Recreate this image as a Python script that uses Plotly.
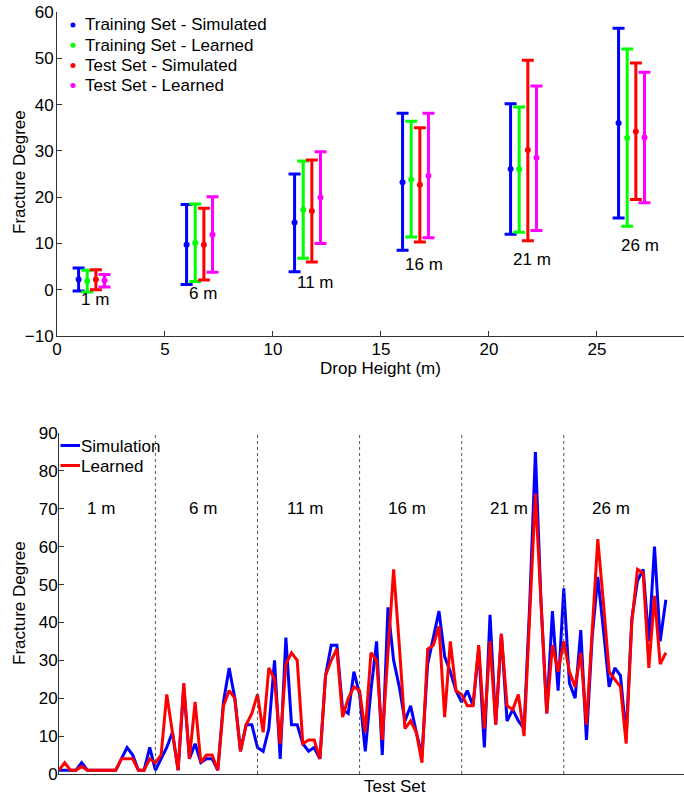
import plotly.graph_objects as go

# ---------------- Top chart data ----------------
heights = [1, 6, 11, 16, 21, 26]
height_labels = ["1 m", "6 m", "11 m", "16 m", "21 m", "26 m"]

train_sim_mean = [2.2, 9.7, 14.5, 23.2, 26.1, 36.0]
train_sim_hi = [4.7, 18.4, 25.0, 38.1, 40.2, 56.5]
train_sim_lo = [-0.3, 1.1, 3.9, 8.5, 12.0, 15.5]

train_learn_mean = [1.9, 10.1, 17.3, 23.8, 26.0, 32.8]
train_learn_hi = [4.2, 18.5, 27.8, 36.4, 39.5, 52.0]
train_learn_lo = [-0.5, 1.8, 6.8, 11.4, 12.4, 13.7]

test_sim_mean = [2.2, 9.7, 17.0, 22.7, 30.2, 34.2]
test_sim_hi = [4.3, 17.6, 28.0, 35.0, 49.6, 49.0]
test_sim_lo = [0.0, 2.1, 6.0, 10.3, 10.6, 19.5]

test_learn_mean = [2.0, 11.9, 19.9, 24.6, 28.5, 32.9]
test_learn_hi = [3.3, 20.1, 29.8, 38.1, 44.0, 47.0]
test_learn_lo = [0.6, 3.8, 10.0, 11.2, 12.8, 18.8]

label_y = [-2.1, -0.8, 1.65, 5.5, 6.5, 9.6]

# ---------------- Bottom chart data ----------------
group_labels = ["1 m", "6 m", "11 m", "16 m", "21 m", "26 m"]
group_size = 18

simulation = [
    1, 1, 1, 1, 3, 1, 1, 1, 1, 1, 1, 4, 7, 5, 1, 1, 7, 1,
    4, 7, 11, 1, 23, 4, 8, 3, 4, 4, 1, 19, 28, 20, 6, 13, 13, 7,
    6, 12, 30, 4, 36, 13, 13, 8, 6, 7, 4, 26, 34, 34, 17, 16, 27, 21,
    6, 22, 35, 5, 44, 30, 23, 14, 18, 11, 5, 29, 36, 43, 31, 27, 22, 19,
    22, 18, 33, 7, 42, 13, 37, 14, 17, 14, 12, 45, 85, 45, 16, 43, 22, 49,
    24, 20, 38, 9, 36, 52, 38, 23, 28, 26, 10, 41, 51, 54, 35, 60, 35, 46,
]
learned = [
    1, 3, 1, 1, 2, 1, 1, 1, 1, 1, 1, 4, 4, 4, 1, 1, 4, 3,
    5, 21, 11, 1, 24, 4, 19, 3, 5, 5, 1, 18, 22, 20, 6, 13, 16, 21,
    11, 28, 25, 8, 29, 32, 30, 8, 9, 9, 4, 26, 30, 33, 15, 20, 23, 22,
    11, 32, 30, 9, 32, 54, 34, 12, 14, 11, 3, 33, 34, 39, 15, 35, 22, 21,
    18, 18, 34, 12, 35, 13, 37, 18, 17, 21, 10, 42, 74, 45, 16, 34, 27, 35,
    27, 23, 32, 13, 38, 62, 45, 27, 25, 23, 8, 40, 54, 53, 28, 47, 29, 32,
]

FONT = "Liberation Sans, Arial, sans-serif"
FS = 17
W, H = 684, 798


def py(p):
    return (H - p) / H


def px(p):
    return p / W


def txt(**kw):
    return dict(family=FONT, size=FS, color="black", **kw)


fig = go.Figure()

series = [
    ("Training Set - Simulated", "#0000ff", train_sim_mean, train_sim_hi, train_sim_lo, 0.0),
    ("Training Set - Learned", "#00ff00", train_learn_mean, train_learn_hi, train_learn_lo, 0.4),
    ("Test Set - Simulated", "#ff0000", test_sim_mean, test_sim_hi, test_sim_lo, 0.8),
    ("Test Set - Learned", "#ff00ff", test_learn_mean, test_learn_hi, test_learn_lo, 1.2),
]
for name, col, m, hi, lo, off in series:
    fig.add_trace(go.Scatter(
        x=[h + off for h in heights], y=m, mode="markers", name=name,
        marker=dict(color=col, size=6),
        error_y=dict(type="data", symmetric=False,
                     array=[a - b for a, b in zip(hi, m)],
                     arrayminus=[b - c for b, c in zip(m, lo)],
                     color=col, thickness=3, width=6),
        xaxis="x", yaxis="y", showlegend=False,
    ))

for h, lab, ly in zip(heights, height_labels, label_y):
    fig.add_annotation(x=h, y=ly, text=lab, xref="x", yref="y", showarrow=False,
                       xanchor="left", yanchor="middle", font=txt())

idx = list(range(1, len(simulation) + 1))
line_series = [("Simulation", "#0000ff", simulation), ("Learned", "#ff0000", learned)]
for name, col, vals in line_series:
    fig.add_trace(go.Scatter(x=idx, y=vals, mode="lines", name=name,
                             line=dict(color=col, width=3),
                             xaxis="x2", yaxis="y2", showlegend=False))

for k in range(1, len(group_labels)):
    fig.add_shape(type="line", x0=k * group_size, x1=k * group_size, y0=0, y1=90,
                  xref="x2", yref="y2", line=dict(color="#555555", width=1, dash="dot"))
for k, lab in enumerate(group_labels):
    fig.add_annotation(x=k * group_size + 8.4, y=70, text=lab, xref="x2", yref="y2",
                       showarrow=False, xanchor="center", font=txt())

# ---- legends (drawn manually to match the compact MATLAB legend) ----
for j, (name, col, *_rest) in enumerate(series):
    yc = 25 + 20.2 * j
    fig.add_shape(type="circle", xref="paper", yref="paper",
                  x0=px(70.5), x1=px(75.5), y0=py(yc + 2.5), y1=py(yc - 2.5),
                  fillcolor=col, line=dict(color=col, width=0))
    fig.add_annotation(x=px(83), y=py(yc), xref="paper", yref="paper", text=name,
                       showarrow=False, xanchor="left", yanchor="middle", font=txt())

for j, (name, col, _v) in enumerate(line_series):
    yc = 445.5 + 20 * j
    fig.add_shape(type="line", xref="paper", yref="paper",
                  x0=px(60.5), x1=px(80), y0=py(yc), y1=py(yc),
                  line=dict(color=col, width=3))
    fig.add_annotation(x=px(79), y=py(yc + 1), xref="paper", yref="paper", text=name,
                       showarrow=False, xanchor="left", yanchor="middle", font=txt())

axis_common = dict(showline=True, linecolor="#333333", linewidth=1, showgrid=False,
                   zeroline=False, ticklen=5, tickcolor="#333333", automargin=False,
                   tickfont=txt())

fig.update_layout(
    width=W, height=H, margin=dict(l=0, r=0, t=0, b=0, autoexpand=False),
    plot_bgcolor="white", paper_bgcolor="white",
    font=txt(),
    xaxis=dict(domain=[px(57), 1.0], range=[0, 29.03], tickvals=[0, 5, 10, 15, 20, 25],
               ticks="inside", ticklabelstandoff=-2, anchor="y", **axis_common),
    yaxis=dict(domain=[py(336), py(12)], range=[-10, 60], dtick=10, anchor="x",
               ticks="inside", ticklabelstandoff=-1, **axis_common),
    xaxis2=dict(domain=[px(59), 1.0], range=[1, 111.2], showticklabels=False,
                tickvals=[], anchor="y2", **axis_common),
    yaxis2=dict(domain=[py(774), py(433)], range=[0, 90], dtick=10, anchor="x2",
                ticks="inside", ticklabelstandoff=-3, **axis_common),
    showlegend=False,
)

fig.add_annotation(x=px(19), y=py(172), xref="paper", yref="paper", text="Fracture Degree",
                   textangle=-90, showarrow=False, xanchor="center", yanchor="middle", font=txt())
fig.add_annotation(x=px(19), y=py(603), xref="paper", yref="paper", text="Fracture Degree",
                   textangle=-90, showarrow=False, xanchor="center", yanchor="middle", font=txt())
fig.add_annotation(x=px(381), y=py(368), xref="paper", yref="paper", text="Drop Height (m)",
                   showarrow=False, xanchor="center", yanchor="middle", font=txt())
fig.add_annotation(x=px(395), y=py(786), xref="paper", yref="paper", text="Test Set",
                   showarrow=False, xanchor="center", yanchor="middle", font=txt())

fig.write_html("out.html", config={"displayModeBar": False},
               post_script="document.body.style.margin='0';")
